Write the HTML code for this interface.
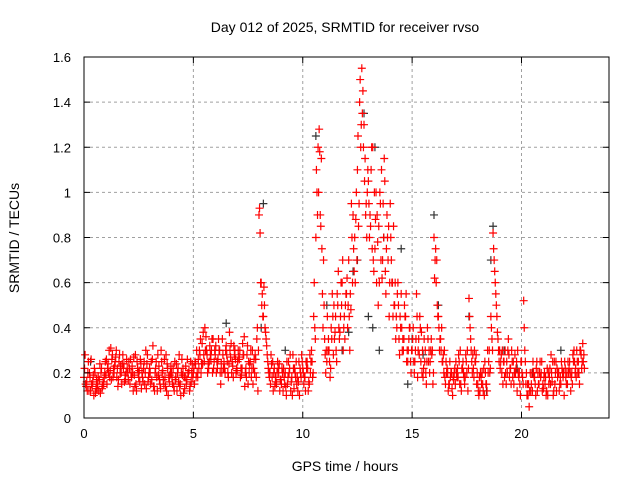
<!DOCTYPE html>
<html><head><meta charset="utf-8"><style>
body{margin:0;background:#fff}
svg text{font-family:"Liberation Sans",sans-serif;fill:#000}
</style></head><body>
<svg id="chart" width="640" height="480" viewBox="0 0 640 480" xmlns="http://www.w3.org/2000/svg">
<rect width="640" height="480" fill="#fff"/>
<g id="grid"></g>
<g id="black"></g>
<g id="red"></g>
<g id="axes"></g>
<text x="345" y="32" font-size="14" text-anchor="middle">Day 012 of 2025, SRMTID for receiver rvso</text>
<text x="345" y="471" font-size="14" text-anchor="middle">GPS time / hours</text>
<text transform="translate(19,238) rotate(-90)" font-size="14" text-anchor="middle">SRMTID / TECUs</text>
</svg>
<script>
const xTicks=[0,5,10,15,20];
const yTicks=[0,0.2,0.4,0.6,0.8,1,1.2,1.4,1.6];
const yTickLabels=["0","0.2","0.4","0.6","0.8","1","1.2","1.4","1.6"];
const sampleStep=0.1;
const redA=[.18,.14,.25,.12,.16,.2,.13,.17,.22,.15,
.19,.24,.21,.28,.23,.18,.25,.2,.22,.17,
.2,.15,.23,.19,.12,.18,.24,.16,.2,.28,
.22,.17,.14,.25,.19,.13,.21,.18,.24,.16,
.2,.14,.18,.22,.15,.19,.13,.17,.21,.16,
.2,.24,.18,.28,.33,.25,.3,.22,.26,.35,
.28,.22,.3,.2,.25,.32,.18,.27,.23,.3,
.21,.26,.19,.28,.22,.15,.25,.3,.2,.35,
.9,.6,.45,.38,.25,.2,.18,.22,.15,.2,
.17,.12,.2,.15,.22,.18,.13,.25,.16,.2,
.22,.18,.25,.15,.3,.45,.8,1.2,.9,.55,
.35,.25,.3,.4,.28,.45,.5,.38,.6,.45,
.55,.7,.48,.9,.6,1.1,1.4,1.55,1.3,.95,
1.05,.85,1.2,.75,.9,.6,1.1,.8,.55,.7,
.95,.6,.5,.4,.35,.55,.3,.45,.25,.4,
.3,.2,.55,.35,.25,.18,.3,.4,.2,.28,
.8,.6,.45,.35,.25,.18,.22,.15,.2,.17,
.25,.18,.3,.22,.15,.2,.53,.3,.22,.25,
.15,.12,.2,.1,.15,.25,.45,.82,.6,.38,
.3,.2,.25,.15,.35,.22,.18,.28,.12,.2,
.25,.52,.15,.1,.2,.12,.18,.25,.15,.2,
.13,.18,.1,.22,.16,.25,.12,.2,.15,.18,
.22,.15,.25,.2,.3,.18,.25,.3,.33];
const redB=[.28,.12,.2,.15,.1,.13,.18,.11,.14,.2,
.15,.3,.17,.22,.27,.14,.2,.24,.16,.26,
.25,.2,.12,.28,.22,.16,.2,.25,.13,.18,
.15,.32,.2,.12,.17,.25,.15,.28,.1,.2,
.15,.25,.12,.28,.2,.11,.23,.2,.14,.24,
.15,.3,.22,.2,.38,.3,.2,.32,.35,.25,
.2,.35,.15,.28,.2,.25,.38,.2,.32,.2,
.3,.18,.33,.14,.28,.2,.18,.22,.26,.12,
.82,.55,.5,.32,.2,.28,.12,.18,.25,.12,
.22,.18,.1,.25,.12,.28,.2,.18,.1,.28,
.15,.25,.12,.2,.18,.4,1.0,1.28,1.15,.7,
.2,.3,.18,.55,.35,.25,.4,.6,.3,.5,
.4,.3,.8,.65,1.0,.85,1.2,1.45,1.15,1.0,
.8,1.2,.65,1.0,.5,.95,.7,1.05,.9,.45,
.7,.85,.35,.6,.45,.3,.5,.25,.35,.2,
.4,.3,.18,.45,.2,.35,.15,.25,.3,.15,
.7,.5,.3,.4,.2,.25,.12,.18,.1,.22,
.18,.25,.12,.2,.28,.12,.4,.2,.3,.15,
.1,.18,.12,.2,.3,.2,.35,.7,.5,.3,
.25,.15,.3,.2,.18,.3,.15,.22,.2,.1,
.18,.3,.1,.05,.15,.2,.1,.2,.25,.12,
.2,.12,.15,.28,.1,.2,.18,.15,.22,.1,
.15,.2,.12,.28,.2,.25,.15,.22,.28];
const redC=[.22,.16,.12,.26,.19,.11,.15,.24,.13,.18,
.26,.2,.31,.18,.25,.22,.28,.15,.24,.2,
.17,.26,.2,.14,.25,.21,.13,.22,.3,.16,
.2,.26,.12,.18,.23,.3,.17,.14,.22,.19,
.18,.12,.24,.16,.1,.22,.18,.26,.12,.2,
.22,.18,.26,.35,.24,.4,.28,.25,.3,.22,
.32,.26,.2,.35,.22,.28,.24,.33,.18,.26,
.25,.3,.22,.36,.18,.25,.3,.15,.28,.4,
.93,.5,.58,.35,.22,.15,.25,.14,.2,.24,
.15,.22,.14,.18,.28,.1,.22,.15,.25,.18,
.2,.12,.22,.28,.25,.6,1.1,1.0,.85,.4,
.28,.45,.25,.35,.5,.3,.65,.45,.7,.35,
.62,.45,.95,.75,.88,1.25,1.5,1.35,1.05,.8,
.95,1.1,.7,.88,.78,1.0,.62,1.15,.75,.85,
.8,.45,.6,.55,.28,.4,.35,.55,.3,.25,
.35,.25,.45,.28,.38,.22,.2,.35,.25,.3,
.62,.7,.4,.3,.28,.15,.2,.25,.13,.2,
.2,.28,.15,.25,.18,.3,.45,.25,.18,.28,
.12,.2,.15,.25,.12,.3,.4,.75,.55,.35,
.22,.3,.18,.25,.28,.15,.25,.2,.3,.15,
.2,.4,.2,.15,.12,.25,.15,.12,.2,.25,
.18,.1,.2,.15,.25,.15,.22,.12,.25,.2,
.18,.25,.2,.15,.25,.3,.2,.28,.25];
const redD=[.15,.2,.18,.14,.22,.17,.12,.2,.16,.25,
.22,.18,.26,.2,.3,.17,.23,.28,.19,.22,
.22,.18,.27,.15,.2,.26,.18,.15,.24,.2,
.25,.14,.22,.28,.15,.2,.26,.12,.18,.23,
.22,.17,.2,.14,.26,.18,.15,.2,.25,.18,
.25,.2,.3,.24,.28,.36,.24,.28,.2,.3,
.25,.3,.24,.22,.3,.2,.3,.25,.28,.22,
.27,.22,.28,.2,.32,.24,.22,.26,.18,.3,
.6,.45,.4,.28,.18,.24,.2,.16,.22,.17,
.2,.15,.25,.2,.16,.22,.18,.12,.22,.25,
.18,.22,.16,.25,.2,.35,.9,1.18,.75,.5,
.3,.35,.22,.45,.38,.55,.35,.5,.4,.55,
.5,.55,.6,.8,.7,.95,1.3,1.2,.9,1.1,
.9,.75,1.0,.6,.85,.7,.95,.65,.8,.6,
.6,.5,.45,.5,.4,.35,.45,.3,.4,.3,
.25,.35,.3,.4,.3,.25,.25,.3,.35,.2,
.75,.45,.35,.25,.3,.2,.15,.2,.18,.15,
.22,.15,.22,.18,.25,.22,.35,.28,.25,.2,
.18,.15,.22,.15,.2,.22,.3,.65,.45,.25,
.28,.25,.2,.3,.22,.25,.2,.25,.18,.25,
.15,.25,.15,.12,.2,.18,.22,.15,.18,.15,
.15,.22,.18,.2,.12,.25,.2,.18,.2,.25,
.2,.22,.18,.25,.22,.2,.3,.25,.22];
const blackT=[8.1,8.2,10.6,11.1,12.3,12.8,13.2,13.5,13.7,14.1,15.0,15.5,16.0,16.2,17.6,18.4,18.7,19.2,20.5,21.8,6.5,2.5,0.3,4.2,9.2,22.6,12.5,13.0,14.8,19.8,12.1,13.3,14.5,11.8,18.6];
const blackV=[.4,.95,1.25,.5,.65,1.35,.4,.3,.8,.6,.35,.28,.9,.5,.45,.12,.85,.3,.2,.3,.42,.2,.25,.18,.3,.2,.7,.45,.15,.22,.38,1.2,.75,.3,.7];

const X0=84,X1=609,Y0=418,Y1=57,XMAX=24,YMAX=1.6;
const sx=t=>X0+(X1-X0)*t/XMAX;
const sy=v=>Y0-(Y0-Y1)*v/YMAX;
const NS="http://www.w3.org/2000/svg";
function mk(tag,attrs,parent){const e=document.createElementNS(NS,tag);for(const k in attrs)e.setAttribute(k,attrs[k]);parent.appendChild(e);return e;}
const grid=document.getElementById('grid'),axes=document.getElementById('axes');
xTicks.forEach(t=>{
 const x=sx(t);
 if(t>0){const g=mk('line',{x1:x,y1:Y1,x2:x,y2:Y0,stroke:'#a0a0a0','stroke-dasharray':'3,3'},grid);
 
 }
 mk('line',{x1:x,y1:Y0,x2:x,y2:Y0-6,stroke:'#000'},axes);
 mk('line',{x1:x,y1:Y1,x2:x,y2:Y1+6,stroke:'#000'},axes);
 const l=mk('text',{x:x,y:Y0+20,'font-size':13,'text-anchor':'middle'},axes);
 l.textContent=t;
 
 
});
yTicks.forEach((v,i)=>{
 const y=sy(v);
 if(v>0&&v<YMAX){const g=mk('line',{x1:X0,y1:y,x2:X1,y2:y,stroke:'#a0a0a0','stroke-dasharray':'3,3'},grid);
 
 }
 mk('line',{x1:X0,y1:y,x2:X0+6,y2:y,stroke:'#000'},axes);
 mk('line',{x1:X1,y1:y,x2:X1-6,y2:y,stroke:'#000'},axes);
 const l=mk('text',{x:X0-13,y:y+5,'font-size':13,'text-anchor':'end'},axes);
 l.textContent=yTickLabels[i];
 
 
});
mk('rect',{x:X0,y:Y1,width:X1-X0,height:Y0-Y1,fill:'none',stroke:'#000'},axes);
function plus(g,t,v,col){
 const x=sx(t),y=sy(v);
 const p=mk('path',{d:`M${x-4},${y}H${x+4}M${x},${y-4}V${y+4}`,stroke:col,'stroke-width':1.2,fill:'none'},g);
 
 
}
const bg=document.getElementById('black'),rg=document.getElementById('red');
blackT.forEach((t,i)=>plus(bg,t,blackV[i],'#333'));
redA.forEach((v,i)=>plus(rg,i*sampleStep,v,'#ff0000'));
redC.forEach((v,i)=>plus(rg,i*sampleStep+0.025,v,'#ff0000'));
redB.forEach((v,i)=>plus(rg,i*sampleStep+0.05,v,'#ff0000'));
redD.forEach((v,i)=>plus(rg,i*sampleStep+0.075,v,'#ff0000'));
</script>
</body></html>
